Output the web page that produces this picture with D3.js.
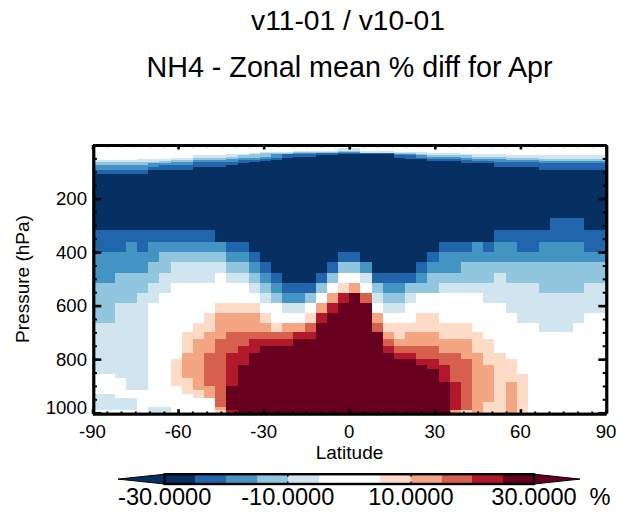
<!DOCTYPE html>
<html><head><meta charset="utf-8">
<script src="https://cdn.jsdelivr.net/npm/d3@7"></script>
<style>html,body{margin:0;padding:0;background:#fff}svg{display:block}text{font-family:"Liberation Sans",Arial,sans-serif;fill:#000}</style>
</head><body><div id="chart"></div>
<script>
// --- data ---
const titleLines = ["v11-01 / v10-01", "NH4 - Zonal mean % diff for Apr"];
const latTicks = [-90, -60, -30, 0, 30, 60, 90];
const pressureTicks = [200, 400, 600, 800, 1000];
const nLat = 46;
const colorBreaks = [-30, -25, -20, -15, -10, -5, 5, 10, 15, 20, 25, 30];
const bandColors = ["#053061","#053061","#2166ac","#4393c3","#92c5de","#d1e5f0","#ffffff","#fddbc7","#f4a582","#d6604d","#b2182b","#67001f","#67001f"];
const colorbarLabels = [-30, -10, 10, 30];
// representative % difference of each letter in the run-length rows below
const bandValue = {a:-32,b:-22,c:-17,d:-12,e:-7,w:0,f:7,g:12,h:17,i:22,j:32};
// pressure level edges, hPa (top to bottom)
const pressureEdges = [0,12.5,21,26,30,35,39,44,47,52,56,60,65,68,75,81,93,110,274,317.5,364,400,438,477,517,554,591,629,666,699,726,750,776,800,822,838,857,869,884,900,915,931,946,961,977,990,1000];
// one row per layer, west to east, as runs of band letters
const layerRuns = [
"w46",
"w22 e2 w22",
"w18 e4 d2 e3 w19",
"w15 e3 d4 c2 e6 w16",
"w14 e1 d3 c2 b7 d2 e4 w13",
"w12 e2 d2 c1 b5 a5 c2 d1 e7 w9",
"w9 e4 d3 c1 b3 a7 b2 c1 d4 e12",
"w9 e3 d3 c2 b1 a9 b2 c4 d4 e9",
"w7 e2 d4 c3 b1 a11 b2 c4 d6 e6",
"w4 e5 d3 c3 b2 a13 b3 c4 d9",
"e7 d2 c4 b3 a14 b4 c6 d6",
"e6 d3 c4 b2 a18 b3 c10",
"d7 c2 b5 a19 b7 c6",
"d5 c4 b4 a23 b10",
"c6 b6 a24 b10",
"c5 b4 a31 b6",
"b5 a41",
"a46",
"a41 b3 a2",
"b11 a25 b10",
"b3 c1 b1 c7 b2 a17 b3 c1 b1 c2 b2 c4 b2",
"c6 d6 c2 b1 a7 b2 a6 b1 c15",
"c5 d2 e5 d2 c1 b1 a5 b1 d2 c1 a4 b1 c3 d13",
"c2 d4 e5 w1 e2 d1 c1 b1 a3 b1 d1 w2 e1 b4 c1 d6 e1 d9",
"d5 e2 w7 e1 d1 c1 b3 d1 w1 f1 g1 w1 d1 c2 d3 e9 d4 e2",
"d4 e2 w9 e1 d1 c2 d1 w1 g1 i1 j1 h1 e1 d2 e1 w6 e11",
"d2 e3 w6 f4 w2 e2 w1 g1 i1 j3 w1 e2 w9 e9",
"d2 e3 w5 f1 g4 f1 w3 f1 i1 j4 g1 w3 f2 w7 e6 w2",
"e5 w4 f2 g5 f1 g2 h1 j5 h1 f8 w6 e3 w3",
"e5 w3 f2 g2 h6 i2 j6 g1 f1 g3 f4 w11",
"e5 w3 f1 g2 h3 i4 j8 h1 g7 f2 w10",
"e5 w3 f1 g2 h2 i2 j11 i1 h4 g3 f2 w10",
"e5 w3 g2 h2 i2 j13 i2 h4 g2 f2 w9",
"e5 w2 f1 g2 h2 i2 j15 i2 h3 g1 f3 w8",
"e5 w2 f1 g2 h2 i1 j17 i2 h2 g2 f2 w8",
"e5 w2 f1 g2 h2 i1 j18 i1 h2 g2 f2 w8",
"w2 e3 w2 f1 g2 h2 i1 j18 i1 h2 g2 f3 w7",
"w3 e2 w2 f2 g1 h2 i1 j18 i1 h2 g2 f3 w7",
"w3 e2 w2 f2 g1 h2 i1 j19 i1 h1 g2 f1 g1 f1 w7",
"w3 e2 w3 f1 g2 h1 j20 i1 h1 g2 f1 g1 f1 w7",
"w8 f2 g1 h1 j20 i1 h1 g2 f1 g1 f1 w7",
"e2 w7 f1 g1 h1 j20 i1 h1 g2 f1 g1 f1 w7",
"e4 w7 h1 j20 i1 h1 g2 f1 g1 f1 w7",
"e4 w7 h1 j20 i1 h1 g1 f2 g1 f1 w7",
"e4 w1 e2 w4 g1 j20 i1 h1 g1 f2 g1 f1 w7",
"w5 e2 w4 f1 i1 j19 g1 f1 g1 f2 g1 f1 w7"
];

// --- layout ---
const W = 631, H = 514;
const x = d3.scaleLinear().domain([-90, 90]).range([92.5, 606]);
const y = d3.scaleLinear().domain([0, 1000]).range([145, 412.7]);
const colBand = d3.scaleBand().domain(d3.range(nLat)).range(x.range());
const color = d3.scaleThreshold().domain(colorBreaks).range(bandColors);
const cb = d3.scaleLinear().domain([-30, 30]).range([164.7, 534]);
const cbTop = 474.2, cbBottom = 484, cbTipLeft = 118, cbTipRight = 580;

const svg = d3.select("#chart").append("svg").attr("width", W).attr("height", H);

svg.selectAll("text.title").data(titleLines).join("text").attr("class","title")
  .attr("x", (d,i)=> i ? 349.5 : 348).attr("y", (d,i)=> i ? 77.3 : 30).attr("text-anchor","middle")
  .attr("font-size", (d,i)=> i ? 28.7 : 28.2).text(d=>d);

// cells
const cells = layerRuns.flatMap((row, r) => {
  const letters = row.split(" ").flatMap(s => Array(+s.slice(1)).fill(s[0]));
  return letters.map((c, k) => ({k, r, v: bandValue[c]}));
});
svg.append("g").attr("shape-rendering","crispEdges").selectAll("rect").data(cells).join("rect")
  .attr("x", d=>colBand(d.k)).attr("width", colBand.bandwidth()+0.3)
  .attr("y", d=>y(pressureEdges[d.r])).attr("height", d=>y(pressureEdges[d.r+1])-y(pressureEdges[d.r])+0.3)
  .attr("fill", d=>color(d.v));

// axes: ticks point inward on all four sides
function styleAxis(g, w){ g.selectAll("path").attr("stroke","#000").attr("stroke-width",2.8);
  g.selectAll("line").attr("stroke","#000").attr("stroke-width",w); g.selectAll("text").remove(); }
const xMinor = d3.range(-90, 91, 5), yMinor = d3.range(50, 1000, 50);
const axes = [
 [d3.axisBottom(x), 412.7+1, 0, xMinor, 2.2, 4.5, 1, "h"],
 [d3.axisTop(x), 145, 0, xMinor, 2.2, 4.5, -1, "h"],
 [d3.axisLeft(y), 0, 93.3, yMinor, 3.6, 8, -1, "v"],
 [d3.axisRight(y), 0, 606.3, yMinor, 3.6, 8, 1, "v"]
];
axes.forEach(([ax, ty, tx, minor, mi, ma, sign, o]) => {
  const mt = o === "h" ? latTicks : pressureTicks;
  const g1 = svg.append("g").attr("transform",`translate(${tx},${ty})`)
    .call(ax.tickValues(minor).tickSizeInner(-mi).tickSizeOuter(0));
  styleAxis(g1, 2);
  const g2 = svg.append("g").attr("transform",`translate(${tx},${ty})`)
    .call(ax.tickValues(mt).tickSizeInner(-ma).tickSizeOuter(0));
  styleAxis(g2, 2.6);
});

// tick labels
svg.selectAll("text.xl").data(latTicks).join("text").attr("class","xl")
  .attr("x", d=>x(d)).attr("y", 438).attr("text-anchor","middle").attr("font-size",18.6).text(d=>d);
svg.selectAll("text.yl").data(pressureTicks).join("text").attr("class","yl")
  .attr("x", 87).attr("y", d=> d===1000 ? 414 : y(d)+6.5).attr("text-anchor","end").attr("font-size",18.6).text(d=>d);
svg.append("text").attr("x",349.5).attr("y",459).attr("text-anchor","middle").attr("font-size",19).text("Latitude");
svg.append("text").attr("transform","translate(29.3,279) rotate(-90)").attr("text-anchor","middle").attr("font-size",19).text("Pressure (hPa)");

// colour bar
const bands = d3.pairs(colorBreaks);
const gb = svg.append("g");
gb.selectAll("rect").data(bands).join("rect").attr("shape-rendering","crispEdges")
  .attr("x", d=>cb(d[0])).attr("width", d=>cb(d[1])-cb(d[0])+0.3)
  .attr("y", cbTop).attr("height", cbBottom-cbTop).attr("fill", d=>color((d[0]+d[1])/2));
const mid = (cbTop+cbBottom)/2;
gb.append("path").attr("d",`M${cb(-30)},${cbTop}L${cbTipLeft},${mid}L${cb(-30)},${cbBottom}Z`)
  .attr("fill",color(-31)).attr("stroke","#000").attr("stroke-width",1);
gb.append("path").attr("d",`M${cb(30)},${cbTop}L${cbTipRight},${mid}L${cb(30)},${cbBottom}Z`)
  .attr("fill",color(31)).attr("stroke","#000").attr("stroke-width",1);
gb.append("rect").attr("x",cb(-30)).attr("y",cbTop).attr("width",cb(30)-cb(-30)).attr("height",cbBottom-cbTop)
  .attr("fill","none").attr("stroke","#000").attr("stroke-width",2.4);
gb.selectAll("line").data(colorbarLabels.slice(1,3)).join("line")
  .attr("x1",d=>cb(d)).attr("x2",d=>cb(d)).attr("y1",cbTop).attr("y2",cbBottom)
  .attr("stroke","#000").attr("stroke-width",1.4).attr("stroke-dasharray","2.5 4.8 2.5");
gb.selectAll("text").data(colorbarLabels).join("text")
  .attr("x",d=>cb(d)).attr("y",505).attr("text-anchor","middle").attr("font-size",23.6).text(d=>d.toFixed(4));
svg.append("text").attr("x",600).attr("y",505).attr("text-anchor","middle").attr("font-size",23.6).text("%");
</script></body></html>
